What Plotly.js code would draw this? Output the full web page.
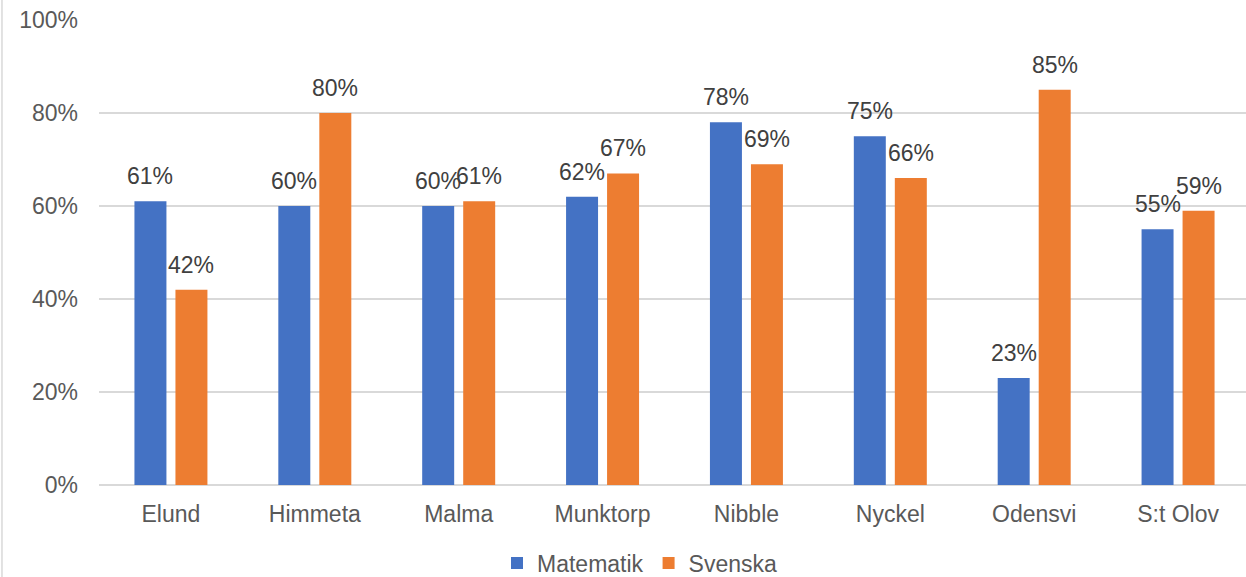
<!DOCTYPE html>
<html>
<head>
<meta charset="utf-8">
<script src="https://cdn.plot.ly/plotly-3.0.1.min.js"></script>
<style>
html,body{margin:0;padding:0;background:#fff;overflow:hidden;}
#chart{width:1250px;height:577px;}
</style>
</head>
<body>
<div id="chart"></div>
<script>
const categories = ["Elund","Himmeta","Malma","Munktorp","Nibble","Nyckel","Odensvi","S:t Olov"];
const matematik = [0.61,0.60,0.60,0.62,0.78,0.75,0.23,0.55];
const svenska   = [0.42,0.80,0.61,0.67,0.69,0.66,0.85,0.59];
const yTicks = [0,0.2,0.4,0.6,0.8,1.0];
const yTickLabels = ["0%","20%","40%","60%","80%","100%"];

const blue = "#4472c4", orange = "#ed7d31";
const font = "Liberation Sans, Arial, sans-serif";

const traces = [
  {type:"bar", name:"Matematik", x:categories, y:matematik, marker:{color:blue}, hoverinfo:"none"},
  {type:"bar", name:"Svenska", x:categories, y:svenska, marker:{color:orange}, hoverinfo:"none"}
];

function pct(v){ return Math.round(v*100) + "%"; }
const annotations = [];
categories.forEach((c,i)=>{
  annotations.push({x:c, y:matematik[i], xref:"x", yref:"y", text:pct(matematik[i]), showarrow:false,
    xshift:-20.5, yshift:10, yanchor:"bottom", font:{family:font, size:23, color:"#404040"}});
  annotations.push({x:c, y:svenska[i], xref:"x", yref:"y", text:pct(svenska[i]), showarrow:false,
    xshift:20.5, yshift:10, yanchor:"bottom", font:{family:font, size:23, color:"#404040"}});
});

const layout = {
  width:1250, height:577,
  margin:{l:99, r:0, t:20, b:92, autoexpand:false},
  paper_bgcolor:"#fff", plot_bgcolor:"#fff",
  barmode:"group", bargap:0.43, bargroupgap:0.22,
  font:{family:font, size:23, color:"#595959"},
  xaxis:{type:"category", showgrid:false, zeroline:false, showline:false, ticks:"",
    tickfont:{family:font, size:23, color:"#595959"}, ticklabelstandoff:13},
  yaxis:{range:[0,1], tickvals:yTicks, ticktext:yTickLabels, showgrid:true, gridcolor:"#d9d9d9", gridwidth:1.5,
    zeroline:true, zerolinecolor:"#d9d9d9", zerolinewidth:1.5, showline:false, ticks:"",
    tickfont:{family:font, size:23, color:"#595959"}, ticklabelstandoff:20},
  showlegend:true,
  legend:{orientation:"h", xref:"container", yref:"container", x:0.512, xanchor:"center", y:0.024, yanchor:"middle",
    font:{family:font, size:23, color:"#595959"}, itemwidth:30, tracegroupgap:0, traceorder:"normal"},
  annotations:annotations,
  shapes:[{type:"line", xref:"paper", yref:"paper", x0:-0.0843, x1:-0.0843, y0:-0.2, y1:1.05,
    line:{color:"#d9d9d9", width:1.5}}]
};

Plotly.newPlot("chart", traces, layout, {displayModeBar:false, staticPlot:true});
</script>
</body>
</html>
